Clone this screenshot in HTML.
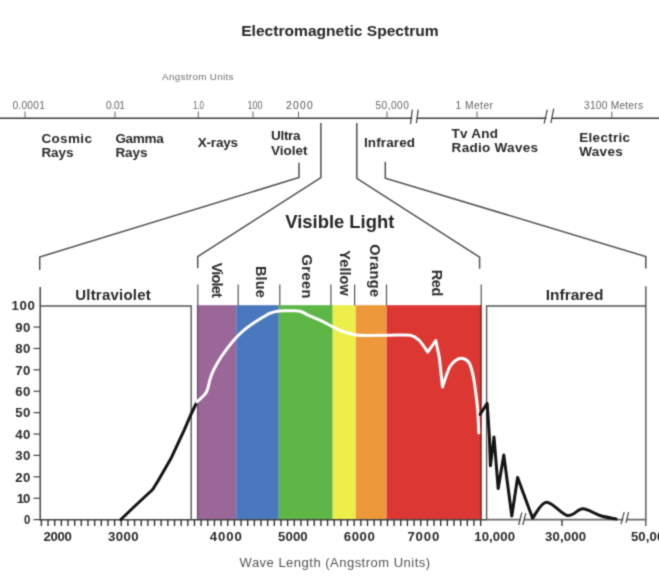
<!DOCTYPE html>
<html><head><meta charset="utf-8"><style>
html,body{margin:0;padding:0;background:#fff;width:659px;height:584px;overflow:hidden}
svg{display:block;font-family:"Liberation Sans", sans-serif}
</style></head><body>
<svg width="659" height="584" viewBox="0 0 659 584">
<defs><filter id="soft" filterUnits="userSpaceOnUse" x="0" y="0" width="659" height="584" color-interpolation-filters="sRGB"><feConvolveMatrix order="3" kernelMatrix="1 4 1 4 16 4 1 4 1" edgeMode="duplicate"/></filter></defs>
<g filter="url(#soft)">
<rect x="0" y="0" width="659" height="584" fill="#fff"/>
<text x="241.2" y="35.8" font-size="15" font-weight="bold" fill="#262626" textLength="197.5" lengthAdjust="spacingAndGlyphs">Electromagnetic Spectrum</text>
<text x="162" y="79.5" font-size="9.8" fill="#707070" textLength="71.5" lengthAdjust="spacing">Angstrom Units</text>
<line x1="0" y1="118.2" x2="659" y2="118.2" stroke="#3c3c3c" stroke-width="1.6"/>
<line x1="25" y1="111.5" x2="25" y2="118" stroke="#666" stroke-width="1"/>
<text x="12.4" y="109" font-size="10.2" fill="#666" textLength="32.5" lengthAdjust="spacing">0.0001</text>
<line x1="115" y1="111.5" x2="115" y2="118" stroke="#666" stroke-width="1"/>
<text x="106" y="109" font-size="10.2" fill="#666" textLength="19" lengthAdjust="spacing">0.01</text>
<line x1="198.3" y1="111.5" x2="198.3" y2="118" stroke="#666" stroke-width="1"/>
<text x="193" y="109" font-size="10.2" fill="#666" textLength="11" lengthAdjust="spacingAndGlyphs">1.0</text>
<line x1="253" y1="111.5" x2="253" y2="118" stroke="#666" stroke-width="1"/>
<text x="247.5" y="109" font-size="10.2" fill="#666" textLength="15" lengthAdjust="spacingAndGlyphs">100</text>
<line x1="298.5" y1="111.5" x2="298.5" y2="118" stroke="#666" stroke-width="1"/>
<text x="286.1" y="109" font-size="10.4" fill="#555" textLength="26.6" lengthAdjust="spacing">2000</text>
<line x1="387" y1="111.5" x2="387" y2="118" stroke="#666" stroke-width="1"/>
<text x="375.5" y="109" font-size="10.2" fill="#666" textLength="33.3" lengthAdjust="spacing">50,000</text>
<line x1="477" y1="111.5" x2="477" y2="118" stroke="#666" stroke-width="1"/>
<text x="455.5" y="109" font-size="10.2" fill="#666" textLength="37.5" lengthAdjust="spacing">1 Meter</text>
<line x1="611.8" y1="111.5" x2="611.8" y2="118" stroke="#666" stroke-width="1"/>
<text x="584" y="109" font-size="10.2" fill="#666" textLength="59" lengthAdjust="spacing">3100 Meters</text>
<rect x="412.2" y="116.5" width="4.2999999999999545" height="3.5" fill="#fff"/>
<line x1="410.5" y1="124.1" x2="412.3" y2="109.6" stroke="#444" stroke-width="1.2"/>
<line x1="416.4" y1="123.2" x2="418.2" y2="109.6" stroke="#444" stroke-width="1.2"/>
<rect x="546.5" y="116.5" width="5.0" height="3.5" fill="#fff"/>
<line x1="544.1" y1="123.7" x2="547.3" y2="109.6" stroke="#444" stroke-width="1.2"/>
<line x1="550.9" y1="123.2" x2="553.7" y2="108.6" stroke="#444" stroke-width="1.2"/>
<text x="41.4" y="143.2" font-size="13.5" font-weight="bold" fill="#2a2a2a" textLength="50.5" lengthAdjust="spacing">Cosmic</text>
<text x="41.4" y="157.4" font-size="13.5" font-weight="bold" fill="#2a2a2a" textLength="32" lengthAdjust="spacing">Rays</text>
<text x="115.4" y="143.2" font-size="13.5" font-weight="bold" fill="#2a2a2a" textLength="48.4" lengthAdjust="spacing">Gamma</text>
<text x="115.4" y="157.4" font-size="13.5" font-weight="bold" fill="#2a2a2a" textLength="32" lengthAdjust="spacing">Rays</text>
<text x="197.8" y="146.9" font-size="13.5" font-weight="bold" fill="#2a2a2a" textLength="40.2" lengthAdjust="spacing">X-rays</text>
<text x="271" y="140" font-size="13.5" font-weight="bold" fill="#2a2a2a" textLength="29.6" lengthAdjust="spacing">Ultra</text>
<text x="271" y="154.6" font-size="13.5" font-weight="bold" fill="#2a2a2a" textLength="36.5" lengthAdjust="spacing">Violet</text>
<text x="363.9" y="146.9" font-size="13.5" font-weight="bold" fill="#2a2a2a" textLength="51.2" lengthAdjust="spacing">Infrared</text>
<text x="451.6" y="138.3" font-size="13.5" font-weight="bold" fill="#2a2a2a" textLength="46.4" lengthAdjust="spacing">Tv And</text>
<text x="451.6" y="152.3" font-size="13.5" font-weight="bold" fill="#2a2a2a" textLength="86.4" lengthAdjust="spacing">Radio Waves</text>
<text x="579.3" y="141.7" font-size="13.5" font-weight="bold" fill="#2a2a2a" textLength="50.7" lengthAdjust="spacing">Electric</text>
<text x="579.3" y="156" font-size="13.5" font-weight="bold" fill="#2a2a2a" textLength="43.4" lengthAdjust="spacing">Waves</text>
<polyline points="299,162.8 299,177.5 39.7,257 39.7,270" fill="none" stroke="#505050" stroke-width="1.5" stroke-linejoin="miter"/>
<polyline points="320.9,123 320.9,177.6 197.7,256.6 197.7,268.3" fill="none" stroke="#505050" stroke-width="1.5" stroke-linejoin="miter"/>
<polyline points="356.8,123 356.8,178.3 479.6,257.2 479.6,268.8" fill="none" stroke="#505050" stroke-width="1.5" stroke-linejoin="miter"/>
<polyline points="385.3,161.8 385.3,178.1 645.8,256.6 645.8,268.5" fill="none" stroke="#505050" stroke-width="1.5" stroke-linejoin="miter"/>
<text x="285.3" y="228" font-size="18.4" font-weight="bold" fill="#262626" textLength="109" lengthAdjust="spacingAndGlyphs">Visible Light</text>
<rect x="196.9" y="305.2" width="39.30" height="214.8" fill="#9b6698"/>
<rect x="236.2" y="305.2" width="42.60" height="214.8" fill="#4a78be"/>
<rect x="278.8" y="305.2" width="53.90" height="214.8" fill="#5db646"/>
<rect x="332.7" y="305.2" width="23.10" height="214.8" fill="#edee4a"/>
<rect x="355.8" y="305.2" width="30.80" height="214.8" fill="#ee983c"/>
<rect x="386.6" y="305.2" width="94.60" height="214.8" fill="#dc3732"/>
<line x1="197.6" y1="305" x2="197.6" y2="520" stroke="#5a3a5a" stroke-width="1.3" opacity="0.6"/>
<polyline points="40,306 191.2,306 191.2,520" fill="none" stroke="#555" stroke-width="1.4"/>
<polyline points="486.6,520 486.6,306 645.8,306 645.8,526" fill="none" stroke="#555" stroke-width="1.4"/>
<line x1="40.2" y1="287" x2="40.2" y2="520.5" stroke="#444" stroke-width="1.5"/>
<line x1="645.8" y1="286.2" x2="645.8" y2="306" stroke="#555" stroke-width="1.4"/>
<line x1="197.8" y1="284.5" x2="197.8" y2="305.5" stroke="#555" stroke-width="1.2"/>
<line x1="238.2" y1="284.5" x2="238.2" y2="305.5" stroke="#555" stroke-width="1.2"/>
<line x1="279.8" y1="284.5" x2="279.8" y2="305.5" stroke="#555" stroke-width="1.2"/>
<line x1="330.9" y1="284.5" x2="330.9" y2="305.5" stroke="#555" stroke-width="1.2"/>
<line x1="354.6" y1="284.5" x2="354.6" y2="305.5" stroke="#555" stroke-width="1.2"/>
<line x1="386.5" y1="284.5" x2="386.5" y2="305.5" stroke="#555" stroke-width="1.2"/>
<line x1="481.2" y1="284.5" x2="481.2" y2="305.5" stroke="#555" stroke-width="1.2"/>
<line x1="480.9" y1="305" x2="480.9" y2="520" stroke="#8a2a26" stroke-width="1.8"/>
<text x="11.6" y="310.40" font-size="13.2" font-weight="bold" fill="#2a2a2a" textLength="23.2" lengthAdjust="spacing">100</text>
<line x1="33.5" y1="327.09" x2="40" y2="327.09" stroke="#444" stroke-width="1.2"/>
<text x="15.2" y="331.79" font-size="13.2" font-weight="bold" fill="#2a2a2a" textLength="15.2" lengthAdjust="spacing">90</text>
<line x1="33.5" y1="348.48" x2="40" y2="348.48" stroke="#444" stroke-width="1.2"/>
<text x="15.2" y="353.18" font-size="13.2" font-weight="bold" fill="#2a2a2a" textLength="15.2" lengthAdjust="spacing">80</text>
<line x1="33.5" y1="369.87" x2="40" y2="369.87" stroke="#444" stroke-width="1.2"/>
<text x="15.2" y="374.57" font-size="13.2" font-weight="bold" fill="#2a2a2a" textLength="15.2" lengthAdjust="spacing">70</text>
<line x1="33.5" y1="391.26" x2="40" y2="391.26" stroke="#444" stroke-width="1.2"/>
<text x="15.2" y="395.96" font-size="13.2" font-weight="bold" fill="#2a2a2a" textLength="15.2" lengthAdjust="spacing">60</text>
<line x1="33.5" y1="412.65" x2="40" y2="412.65" stroke="#444" stroke-width="1.2"/>
<text x="15.2" y="417.35" font-size="13.2" font-weight="bold" fill="#2a2a2a" textLength="15.2" lengthAdjust="spacing">50</text>
<line x1="33.5" y1="434.04" x2="40" y2="434.04" stroke="#444" stroke-width="1.2"/>
<text x="15.2" y="438.74" font-size="13.2" font-weight="bold" fill="#2a2a2a" textLength="15.2" lengthAdjust="spacing">40</text>
<line x1="33.5" y1="455.43" x2="40" y2="455.43" stroke="#444" stroke-width="1.2"/>
<text x="15.2" y="460.13" font-size="13.2" font-weight="bold" fill="#2a2a2a" textLength="15.2" lengthAdjust="spacing">30</text>
<line x1="33.5" y1="476.82" x2="40" y2="476.82" stroke="#444" stroke-width="1.2"/>
<text x="15.2" y="481.52" font-size="13.2" font-weight="bold" fill="#2a2a2a" textLength="15.2" lengthAdjust="spacing">20</text>
<line x1="33.5" y1="498.21" x2="40" y2="498.21" stroke="#444" stroke-width="1.2"/>
<text x="16.7" y="502.91" font-size="13.2" font-weight="bold" fill="#2a2a2a" textLength="13.6" lengthAdjust="spacing">10</text>
<line x1="33.5" y1="519.60" x2="40" y2="519.60" stroke="#444" stroke-width="1.2"/>
<text x="23.9" y="524.30" font-size="13.2" font-weight="bold" fill="#2a2a2a" textLength="6.4" lengthAdjust="spacingAndGlyphs">0</text>
<line x1="40" y1="519.8" x2="487" y2="519.8" stroke="#444" stroke-width="1.5"/>
<line x1="487" y1="519.6" x2="646.5" y2="519.6" stroke="#6a6a6a" stroke-width="1.7"/>
<line x1="41.40" y1="519.8" x2="41.40" y2="526" stroke="#2a2a2a" stroke-width="1.35"/>
<line x1="48.05" y1="519.8" x2="48.05" y2="526" stroke="#2a2a2a" stroke-width="1.35"/>
<line x1="54.71" y1="519.8" x2="54.71" y2="526" stroke="#2a2a2a" stroke-width="1.35"/>
<line x1="61.36" y1="519.8" x2="61.36" y2="526" stroke="#2a2a2a" stroke-width="1.35"/>
<line x1="68.02" y1="519.8" x2="68.02" y2="526" stroke="#2a2a2a" stroke-width="1.35"/>
<line x1="74.67" y1="519.8" x2="74.67" y2="526" stroke="#2a2a2a" stroke-width="1.35"/>
<line x1="81.33" y1="519.8" x2="81.33" y2="526" stroke="#2a2a2a" stroke-width="1.35"/>
<line x1="87.98" y1="519.8" x2="87.98" y2="526" stroke="#2a2a2a" stroke-width="1.35"/>
<line x1="94.64" y1="519.8" x2="94.64" y2="526" stroke="#2a2a2a" stroke-width="1.35"/>
<line x1="101.30" y1="519.8" x2="101.30" y2="526" stroke="#2a2a2a" stroke-width="1.35"/>
<line x1="107.95" y1="519.8" x2="107.95" y2="526" stroke="#2a2a2a" stroke-width="1.35"/>
<line x1="114.60" y1="519.8" x2="114.60" y2="526" stroke="#2a2a2a" stroke-width="1.35"/>
<line x1="121.26" y1="519.8" x2="121.26" y2="526" stroke="#2a2a2a" stroke-width="1.35"/>
<line x1="127.91" y1="519.8" x2="127.91" y2="526" stroke="#2a2a2a" stroke-width="1.35"/>
<line x1="134.57" y1="519.8" x2="134.57" y2="526" stroke="#2a2a2a" stroke-width="1.35"/>
<line x1="141.22" y1="519.8" x2="141.22" y2="526" stroke="#2a2a2a" stroke-width="1.35"/>
<line x1="147.88" y1="519.8" x2="147.88" y2="526" stroke="#2a2a2a" stroke-width="1.35"/>
<line x1="154.53" y1="519.8" x2="154.53" y2="526" stroke="#2a2a2a" stroke-width="1.35"/>
<line x1="161.19" y1="519.8" x2="161.19" y2="526" stroke="#2a2a2a" stroke-width="1.35"/>
<line x1="167.84" y1="519.8" x2="167.84" y2="526" stroke="#2a2a2a" stroke-width="1.35"/>
<line x1="174.50" y1="519.8" x2="174.50" y2="526" stroke="#2a2a2a" stroke-width="1.35"/>
<line x1="181.16" y1="519.8" x2="181.16" y2="526" stroke="#2a2a2a" stroke-width="1.35"/>
<line x1="187.81" y1="519.8" x2="187.81" y2="526" stroke="#2a2a2a" stroke-width="1.35"/>
<line x1="194.47" y1="519.8" x2="194.47" y2="526" stroke="#2a2a2a" stroke-width="1.35"/>
<line x1="201.12" y1="519.8" x2="201.12" y2="526" stroke="#2a2a2a" stroke-width="1.35"/>
<line x1="207.78" y1="519.8" x2="207.78" y2="526" stroke="#2a2a2a" stroke-width="1.35"/>
<line x1="214.43" y1="519.8" x2="214.43" y2="526" stroke="#2a2a2a" stroke-width="1.35"/>
<line x1="221.09" y1="519.8" x2="221.09" y2="526" stroke="#2a2a2a" stroke-width="1.35"/>
<line x1="227.74" y1="519.8" x2="227.74" y2="526" stroke="#2a2a2a" stroke-width="1.35"/>
<line x1="234.40" y1="519.8" x2="234.40" y2="526" stroke="#2a2a2a" stroke-width="1.35"/>
<line x1="241.05" y1="519.8" x2="241.05" y2="526" stroke="#2a2a2a" stroke-width="1.35"/>
<line x1="247.71" y1="519.8" x2="247.71" y2="526" stroke="#2a2a2a" stroke-width="1.35"/>
<line x1="254.36" y1="519.8" x2="254.36" y2="526" stroke="#2a2a2a" stroke-width="1.35"/>
<line x1="261.01" y1="519.8" x2="261.01" y2="526" stroke="#2a2a2a" stroke-width="1.35"/>
<line x1="267.67" y1="519.8" x2="267.67" y2="526" stroke="#2a2a2a" stroke-width="1.35"/>
<line x1="274.32" y1="519.8" x2="274.32" y2="526" stroke="#2a2a2a" stroke-width="1.35"/>
<line x1="280.98" y1="519.8" x2="280.98" y2="526" stroke="#2a2a2a" stroke-width="1.35"/>
<line x1="287.63" y1="519.8" x2="287.63" y2="526" stroke="#2a2a2a" stroke-width="1.35"/>
<line x1="294.29" y1="519.8" x2="294.29" y2="526" stroke="#2a2a2a" stroke-width="1.35"/>
<line x1="300.94" y1="519.8" x2="300.94" y2="526" stroke="#2a2a2a" stroke-width="1.35"/>
<line x1="307.60" y1="519.8" x2="307.60" y2="526" stroke="#2a2a2a" stroke-width="1.35"/>
<line x1="314.25" y1="519.8" x2="314.25" y2="526" stroke="#2a2a2a" stroke-width="1.35"/>
<line x1="320.91" y1="519.8" x2="320.91" y2="526" stroke="#2a2a2a" stroke-width="1.35"/>
<line x1="327.56" y1="519.8" x2="327.56" y2="526" stroke="#2a2a2a" stroke-width="1.35"/>
<line x1="334.22" y1="519.8" x2="334.22" y2="526" stroke="#2a2a2a" stroke-width="1.35"/>
<line x1="340.88" y1="519.8" x2="340.88" y2="526" stroke="#2a2a2a" stroke-width="1.35"/>
<line x1="347.53" y1="519.8" x2="347.53" y2="526" stroke="#2a2a2a" stroke-width="1.35"/>
<line x1="354.19" y1="519.8" x2="354.19" y2="526" stroke="#2a2a2a" stroke-width="1.35"/>
<line x1="360.84" y1="519.8" x2="360.84" y2="526" stroke="#2a2a2a" stroke-width="1.35"/>
<line x1="367.50" y1="519.8" x2="367.50" y2="526" stroke="#2a2a2a" stroke-width="1.35"/>
<line x1="374.15" y1="519.8" x2="374.15" y2="526" stroke="#2a2a2a" stroke-width="1.35"/>
<line x1="380.81" y1="519.8" x2="380.81" y2="526" stroke="#2a2a2a" stroke-width="1.35"/>
<line x1="387.46" y1="519.8" x2="387.46" y2="526" stroke="#2a2a2a" stroke-width="1.35"/>
<line x1="394.12" y1="519.8" x2="394.12" y2="526" stroke="#2a2a2a" stroke-width="1.35"/>
<line x1="400.77" y1="519.8" x2="400.77" y2="526" stroke="#2a2a2a" stroke-width="1.35"/>
<line x1="407.43" y1="519.8" x2="407.43" y2="526" stroke="#2a2a2a" stroke-width="1.35"/>
<line x1="414.08" y1="519.8" x2="414.08" y2="526" stroke="#2a2a2a" stroke-width="1.35"/>
<line x1="420.74" y1="519.8" x2="420.74" y2="526" stroke="#2a2a2a" stroke-width="1.35"/>
<line x1="427.39" y1="519.8" x2="427.39" y2="526" stroke="#2a2a2a" stroke-width="1.35"/>
<line x1="434.05" y1="519.8" x2="434.05" y2="526" stroke="#2a2a2a" stroke-width="1.35"/>
<line x1="440.70" y1="519.8" x2="440.70" y2="526" stroke="#2a2a2a" stroke-width="1.35"/>
<line x1="447.36" y1="519.8" x2="447.36" y2="526" stroke="#2a2a2a" stroke-width="1.35"/>
<line x1="454.01" y1="519.8" x2="454.01" y2="526" stroke="#2a2a2a" stroke-width="1.35"/>
<line x1="460.67" y1="519.8" x2="460.67" y2="526" stroke="#2a2a2a" stroke-width="1.35"/>
<line x1="467.32" y1="519.8" x2="467.32" y2="526" stroke="#2a2a2a" stroke-width="1.35"/>
<line x1="473.97" y1="519.8" x2="473.97" y2="526" stroke="#2a2a2a" stroke-width="1.35"/>
<line x1="480.63" y1="519.8" x2="480.63" y2="526" stroke="#2a2a2a" stroke-width="1.35"/>
<line x1="562" y1="519.8" x2="562" y2="526" stroke="#2a2a2a" stroke-width="1.35"/>
<rect x="521.0" y="518" width="2.5" height="3.5" fill="#fff"/>
<line x1="518.6" y1="525" x2="521.8" y2="512.7" stroke="#444" stroke-width="1.2"/>
<line x1="522.7" y1="525" x2="525.9" y2="513.2" stroke="#444" stroke-width="1.2"/>
<rect x="623.4" y="518" width="3.1000000000000227" height="3.5" fill="#fff"/>
<line x1="621" y1="524.2" x2="624.2" y2="512.2" stroke="#444" stroke-width="1.2"/>
<line x1="626" y1="522.9" x2="628.6" y2="512.2" stroke="#444" stroke-width="1.2"/>
<text x="43.6" y="541.2" font-size="13.2" font-weight="bold" fill="#2a2a2a" textLength="28.3" lengthAdjust="spacing">2000</text>
<text x="108" y="541.2" font-size="13.2" font-weight="bold" fill="#2a2a2a" textLength="30.6" lengthAdjust="spacing">3000</text>
<text x="209.7" y="541.2" font-size="13.2" font-weight="bold" fill="#2a2a2a" textLength="32.2" lengthAdjust="spacing">4000</text>
<text x="278" y="541.2" font-size="13.2" font-weight="bold" fill="#2a2a2a" textLength="29.7" lengthAdjust="spacing">5000</text>
<text x="343.7" y="541.2" font-size="13.2" font-weight="bold" fill="#2a2a2a" textLength="31.2" lengthAdjust="spacing">6000</text>
<text x="407.4" y="541.2" font-size="13.2" font-weight="bold" fill="#2a2a2a" textLength="31.9" lengthAdjust="spacing">7000</text>
<text x="474.2" y="541.2" font-size="13.2" font-weight="bold" fill="#2a2a2a" textLength="40.9" lengthAdjust="spacing">10,000</text>
<text x="545" y="541.2" font-size="13.2" font-weight="bold" fill="#2a2a2a" textLength="41" lengthAdjust="spacing">30,000</text>
<text x="630.9" y="541.2" font-size="13.2" font-weight="bold" fill="#2a2a2a" textLength="40.9" lengthAdjust="spacing">50,000</text>
<text x="239.6" y="566.7" font-size="13" fill="#555" textLength="190.5" lengthAdjust="spacing">Wave Length (Angstrom Units)</text>
<text x="75.2" y="300" font-size="15" font-weight="bold" fill="#2a2a2a" textLength="75.5" lengthAdjust="spacing">Ultraviolet</text>
<text x="545.7" y="300.2" font-size="15.5" font-weight="bold" fill="#2a2a2a" textLength="57.7" lengthAdjust="spacing">Infrared</text>
<text transform="translate(212.2,262.7) rotate(90)" x="0" y="0" font-size="14.5" font-weight="bold" fill="#2a2a2a" textLength="35.1" lengthAdjust="spacing">Violet</text>
<text transform="translate(255.9,265.9) rotate(90)" x="0" y="0" font-size="14.5" font-weight="bold" fill="#2a2a2a" textLength="31.9" lengthAdjust="spacing">Blue</text>
<text transform="translate(301.5,254.6) rotate(90)" x="0" y="0" font-size="14.5" font-weight="bold" fill="#2a2a2a" textLength="43.8" lengthAdjust="spacing">Green</text>
<text transform="translate(339.6,250.3) rotate(90)" x="0" y="0" font-size="14.5" font-weight="bold" fill="#2a2a2a" textLength="45.5" lengthAdjust="spacing">Yellow</text>
<text transform="translate(369.6,244.2) rotate(90)" x="0" y="0" font-size="14.5" font-weight="bold" fill="#2a2a2a" textLength="52.8" lengthAdjust="spacing">Orange</text>
<text transform="translate(432.4,269.7) rotate(90)" x="0" y="0" font-size="14.5" font-weight="bold" fill="#2a2a2a" textLength="26.7" lengthAdjust="spacing">Red</text>
<path d="M120.8,519.5 L136,505 L152.7,489.5 L158.1,480.8 L170.8,458.8 L184.4,429.6 L190,416.5 L196.9,402" fill="none" stroke="#141414" stroke-width="3" stroke-linejoin="round" stroke-linecap="round"/>
<path d="M196.9,402 C198.47,400.38 204.10,396.12 206.3,392.3 C208.50,388.48 208.85,382.87 210.1,379.1 C211.35,375.33 211.92,373.47 213.8,369.7 C215.68,365.93 218.25,361.22 221.4,356.5 C224.55,351.78 228.93,345.80 232.7,341.4 C236.47,337.00 239.93,333.55 244,330.1 C248.07,326.65 252.72,323.52 257.1,320.7 C261.48,317.88 266.65,314.83 270.3,313.2 C273.95,311.57 275.72,311.30 279,310.9 C282.28,310.50 286.50,310.75 290,310.8 C293.50,310.85 296.92,310.45 300,311.2 C303.08,311.95 305.08,313.78 308.5,315.3 C311.92,316.82 316.57,318.43 320.5,320.3 C324.43,322.17 328.13,324.55 332.1,326.5 C336.07,328.45 340.25,330.58 344.3,332 C348.35,333.42 352.37,334.42 356.4,335 C360.43,335.58 362.90,335.47 368.5,335.5 C374.10,335.53 383.03,335.23 390,335.2 C396.97,335.17 405.42,334.42 410.3,335.3 C415.18,336.18 416.40,337.70 419.3,340.5 C422.20,343.30 426.30,350.17 427.7,352.1 L427.7,352.1 L435.8,340.5 L439.3,357.2 L442.5,386.9 L442.5,386.9 C443.67,383.65 447.33,371.82 449.5,367.4 C451.67,362.98 453.23,361.88 455.5,360.4 C457.77,358.92 460.77,358.00 463.1,358.5 C465.43,359.00 467.78,360.32 469.5,363.4 C471.22,366.48 472.28,371.52 473.4,377 C474.52,382.48 475.47,390.52 476.2,396.3 C476.93,402.08 477.37,405.58 477.8,411.7 C478.23,417.82 478.63,429.45 478.8,433" fill="none" stroke="#fff" stroke-width="3" stroke-linejoin="round" stroke-linecap="round"/>
<path d="M480,414.5 L487.2,403.4 L489.4,437 L490.4,465.8 L494,437 L498.2,488.6 L503.8,455 L511.8,516 L517.6,477.5 L532.6,518.2 L532.6,518.2 C534.90,515.53 540.60,502.65 546.4,502.2 C552.20,501.75 561.33,514.40 567.4,515.5 C573.47,516.60 577.37,508.80 582.8,508.8 C588.23,508.80 594.45,513.80 600,515.5 C605.55,517.20 613.42,518.42 616.1,519" fill="none" stroke="#141414" stroke-width="3" stroke-linejoin="round" stroke-linecap="round"/>
</g>
</svg>
</body></html>
